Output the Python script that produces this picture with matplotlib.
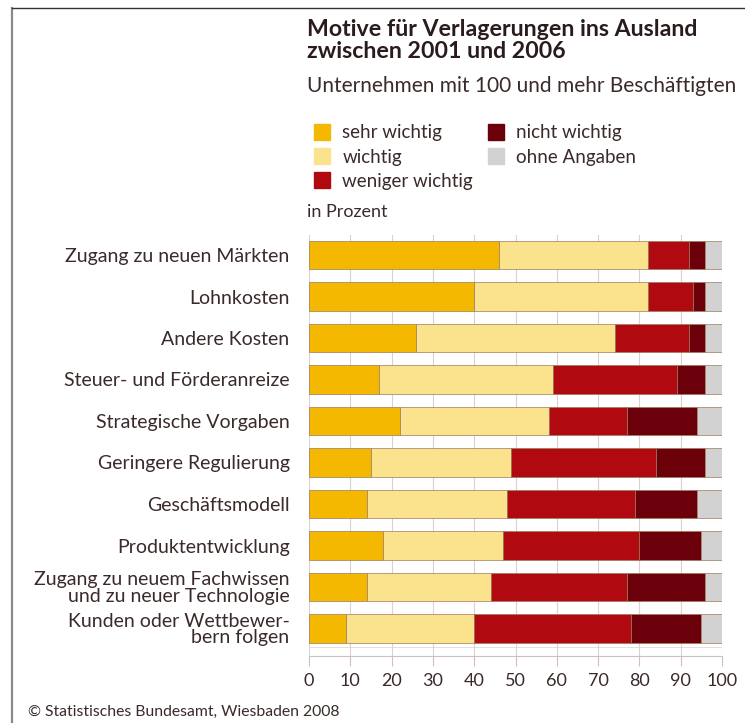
import numpy as np
import matplotlib.pyplot as plt
from matplotlib.lines import Line2D

plt.rcParams['font.family'] = ['Lato', 'DejaVu Sans']

categories = [
    "Zugang zu neuen Märkten",
    "Lohnkosten",
    "Andere Kosten",
    "Steuer- und Förderanreize",
    "Strategische Vorgaben",
    "Geringere Regulierung",
    "Geschäftsmodell",
    "Produktentwicklung",
    "Zugang zu neuem Fachwissen\nund zu neuer Technologie",
    "Kunden oder Wettbewer-\nbern folgen",
]
series_names = ["sehr wichtig", "wichtig", "weniger wichtig", "nicht wichtig", "ohne Angaben"]
sehr_wichtig = [46, 40, 26, 17, 22, 15, 14, 18, 14, 9]
wichtig = [36, 42, 48, 42, 36, 34, 34, 29, 30, 31]
weniger_wichtig = [10, 11, 18, 30, 19, 35, 31, 33, 33, 38]
nicht_wichtig = [4, 3, 4, 7, 17, 12, 15, 15, 19, 17]
ohne_angaben = [4, 4, 4, 4, 6, 4, 6, 5, 4, 5]
xticks = [0, 10, 20, 30, 40, 50, 60, 70, 80, 90, 100]

colors = ["#f4b800", "#fbe38e", "#b00a10", "#6c000a", "#d2d2d2"]
text_col = "#3a2a2a"

fig = plt.figure(figsize=(7.45, 7.23), dpi=100)
ax = fig.add_axes([309 / 745, 1 - 656 / 723, 413 / 745, (656 - 235) / 723])

y = np.arange(len(categories))
left = np.zeros(len(categories))
for vals, col, name in zip([sehr_wichtig, wichtig, weniger_wichtig, nicht_wichtig, ohne_angaben],
                           colors, series_names):
    ax.barh(y, vals, left=left, height=0.69, color=col, edgecolor="#9c7a5c",
            linewidth=0.5, label=name, zorder=3)
    left += np.array(vals)

ax.set_xlim(0, 100)
ax.set_ylim(9 + (656 - 628.5) / 41.5, -(255 - 235) / 41.5)
ax.set_xticks(xticks)
ax.set_xticklabels([str(t) for t in xticks], fontsize=13, color=text_col)
ax.set_yticks(y)
ax.set_yticklabels(categories, fontsize=14, color=text_col, linespacing=0.95)
ax.tick_params(axis='y', length=0, pad=14)
ax.tick_params(axis='x', length=7, width=0.8, color="#cfc0c0", pad=5)
ax.grid(axis='x', color="#ddd0d0", linewidth=0.8, zorder=0)
ax.axhline(9 + (647 - 628.5) / 41.5, color="#e6dcdc", linewidth=0.7, zorder=0)
for s in ['top', 'left', 'right']:
    ax.spines[s].set_visible(False)
ax.spines['bottom'].set_color("#cfc0c0")
ax.spines['bottom'].set_linewidth(0.8)

# titles
fig.text(307 / 745, 1 - 29 / 723, "Motive für Verlagerungen ins Ausland", fontsize=16.7,
         fontweight='bold', color="#2a1c1c", va='center', ha='left')
fig.text(307 / 745, 1 - 52 / 723, "zwischen 2001 und 2006", fontsize=16.7,
         fontweight='bold', color="#2a1c1c", va='center', ha='left')
fig.text(307 / 745, 1 - 86 / 723, "Unternehmen mit 100 und mehr Beschäftigten", fontsize=15,
         color=text_col, va='center', ha='left')
fig.text(307 / 745, 1 - 212 / 723, "in Prozent", fontsize=13, color=text_col,
         va='center', ha='left')

# legend
handles = [Line2D([], [], marker='s', linestyle='none', markersize=11,
                  markerfacecolor=c, markeredgecolor=c) for c in colors]
fig.legend(handles, series_names, loc='upper left', bbox_to_anchor=(303 / 745, 1 - 115 / 723),
           ncol=2, frameon=False, fontsize=13.5, labelcolor=text_col, borderpad=0,
           handlelength=1.0, handletextpad=0.6, labelspacing=0.38, columnspacing=0.7)

fig.text(28 / 745, 1 - 712 / 723, "© Statistisches Bundesamt, Wiesbaden 2008", fontsize=11.3,
         color=text_col, va='center', ha='left')

# frame lines
fig.add_artist(Line2D([12 / 745, 12 / 745], [0, 1 - 8 / 723], transform=fig.transFigure,
                      color="#8a8a8a", linewidth=1.6))
fig.add_artist(Line2D([12 / 745, 1], [1 - 8 / 723, 1 - 8 / 723], transform=fig.transFigure,
                      color="#333333", linewidth=1.0))

fig.savefig("out.png", dpi=100)
